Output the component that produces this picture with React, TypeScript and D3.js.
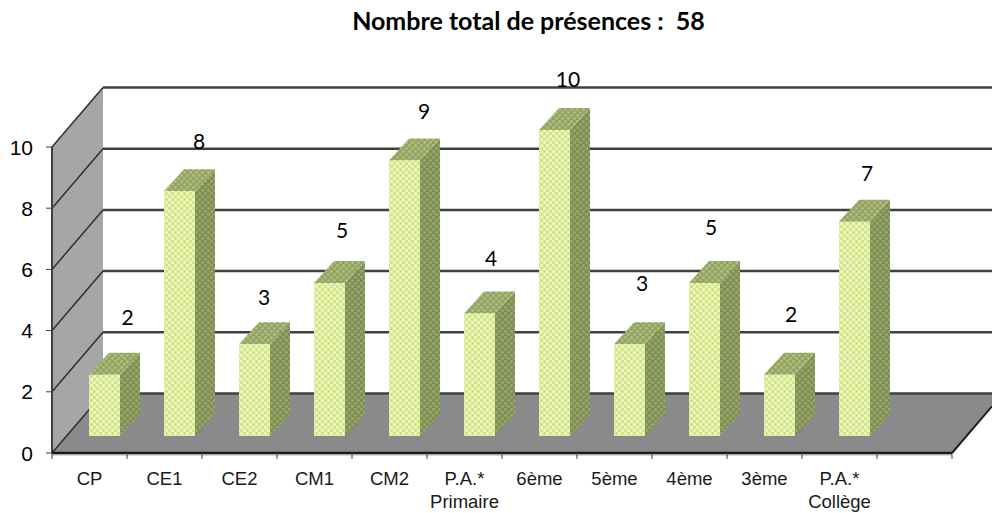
import React from "react";
import * as d3 from "d3";

const title = "Nombre total de présences :  58";
const categories = ["CP", "CE1", "CE2", "CM1", "CM2", "P.A.*|Primaire", "6ème", "5ème", "4ème", "3ème", "P.A.*|Collège", ""];
const values = [2, 8, 3, 5, 9, 4, 10, 3, 5, 2, 7];
const yTicks = [0, 2, 4, 6, 8, 10];
// hand-placed offsets of the data labels relative to the top of each bar
const labelDx = [23, 19.5, 9.5, 12.5, 19.5, 11.5, 13.5, 12.5, 6.5, 11.5, 12.5];
const labelDy = [-57, -50, -47, -53, -49, -55, -51, -61, -56, -60, -48];

const W = 992, H = 513;
const x = d3.scaleBand<string>().domain(categories.map((c, i) => i + c)).range([52, 952]);
const y = d3.scaleLinear().domain([0, 10]).range([453, 147]);
const depth = { dx: 51, dy: -59.5 };
const bar = { dx: 20, dy: -22, w: 31, ox: 15, oy: -17 };

function pts(p: [number, number][]) { return p.map(a => a.join(",")).join(" "); }

export default function App() {
  const band = x.bandwidth();
  const cx = (i: number) => (x(i + categories[i]) as number) + band / 2;
  const fx = (i: number) => cx(i) - bar.w / 2 + bar.ox;
  const slope = depth.dy / depth.dx;
  return (
    <svg width={W} height={H} viewBox={`0 0 ${W} ${H}`}
      style={{ position: "absolute", left: 0, top: 0, background: "#fff" }}>
      <defs>
        <pattern id="front" width="6" height="6" patternUnits="userSpaceOnUse">
          <rect width="6" height="6" fill="#d6e888" />
          <circle cx="1.5" cy="1.5" r="1.5" fill="#f1f8cf" />
          <circle cx="4.5" cy="4.5" r="1.5" fill="#f1f8cf" />
          <circle cx="4.5" cy="1.5" r="0.6" fill="#c2d27c" />
          <circle cx="1.5" cy="4.5" r="0.6" fill="#c2d27c" />
        </pattern>
        <pattern id="side" width="6" height="6" patternUnits="userSpaceOnUse">
          <rect width="6" height="6" fill="#7f8f52" />
          <circle cx="1.5" cy="1.5" r="1.4" fill="#9aa96c" />
          <circle cx="4.5" cy="4.5" r="1.4" fill="#9aa96c" />
        </pattern>
        <pattern id="top" width="6" height="6" patternUnits="userSpaceOnUse">
          <rect width="6" height="6" fill="#93a362" />
          <circle cx="1.5" cy="1.5" r="1.4" fill="#b1bf80" />
          <circle cx="4.5" cy="4.5" r="1.4" fill="#b1bf80" />
        </pattern>
        <filter id="soft" x="-5%" y="-5%" width="110%" height="110%">
          <feGaussianBlur stdDeviation="0.5" />
        </filter>
      </defs>

      {/* left wall and floor */}
      <polygon fill="#a6a6a6" points={pts([[52, y(10)], [52 + depth.dx, y(10) + depth.dy], [52 + depth.dx, y(0) + depth.dy], [52, y(0)]])} />
      <polygon fill="#8a8a8c" points={pts([[52, y(0)], [52 + depth.dx, y(0) + depth.dy], [992, y(0) + depth.dy], [992, y(0) + 40 * slope], [952, y(0)]])} />

      {/* gridlines */}
      {yTicks.map(t => (
        <g key={t} fill="none">
          <line x1={52} y1={y(t)} x2={52 + depth.dx} y2={y(t) + depth.dy} strokeWidth={1.5} stroke="#2f2f2f" />
          <line x1={52 + depth.dx} y1={y(t) + depth.dy} x2={992} y2={y(t) + depth.dy} strokeWidth={2.5} stroke="#404040" />
        </g>
      ))}
      <line x1={952} y1={y(0)} x2={992} y2={y(0) + 40 * slope} stroke="#1f1f1f" strokeWidth={2} />

      {/* axes */}
      <line x1={52} y1={y(10)} x2={52} y2={y(0)} stroke="#404040" strokeWidth={2} />
      <line x1={52} y1={y(0) + 1} x2={952} y2={y(0) + 1} stroke="#d9d9d9" strokeWidth={4} />
      <line x1={52} y1={y(0)} x2={952} y2={y(0)} stroke="#1a1a1a" strokeWidth={2.5} />
      {yTicks.map(t => (
        <g key={t}>
          <line x1={46} x2={52} y1={y(t)} y2={y(t)} stroke="#404040" strokeWidth={1} />
          <text x={33} y={y(t)} dy="0.36em" textAnchor="end" fontFamily="'Liberation Sans', Arial, sans-serif" fontSize={21} fill="#000">{t}</text>
        </g>
      ))}
      {categories.concat("end").map((_, i) => {
        const tx = 52 + i * band;
        return <line key={i} x1={tx} x2={tx} y1={y(0)} y2={y(0) + 6} stroke="#404040" strokeWidth={1} />;
      })}
      {categories.map((c, i) => (
        <text key={i} textAnchor="middle" fontFamily="'Liberation Sans', Arial, sans-serif" fontSize={18.5} fill="#1a1a1a">
          {c.split("|").map((l, j) => (
            <tspan key={j} x={cx(i)} y={485 + j * 23}>{l}</tspan>
          ))}
        </text>
      ))}

      {/* bars */}
      {values.map((v, i) => {
        const l = fx(i), r = l + bar.w;
        const b = y(0) + bar.oy, t = b - (y(0) - y(v));
        return (
          <g key={i}>
            <g filter="url(#soft)">
              <polygon fill="url(#side)" points={pts([[r, t], [r + bar.dx, t + bar.dy], [r + bar.dx, b + bar.dy], [r, b]])} />
              <polygon fill="url(#top)" points={pts([[l, t], [l + bar.dx, t + bar.dy], [r + bar.dx, t + bar.dy], [r, t]])} />
              <rect x={l} y={t} width={bar.w} height={b - t} fill="url(#front)" />
            </g>
            <text x={cx(i) + bar.ox + labelDx[i]} y={t + labelDy[i]} textAnchor="middle" dy="0.36em"
              fontFamily="Lato" fontSize={21} fill="#000">{v}</text>
          </g>
        );
      })}

      <text x={528.5} y={30} textAnchor="middle" fontFamily="Lato" fontWeight={700} fontSize={25} fill="#000"
        style={{ whiteSpace: "pre" }}>{title}</text>
    </svg>
  );
}
